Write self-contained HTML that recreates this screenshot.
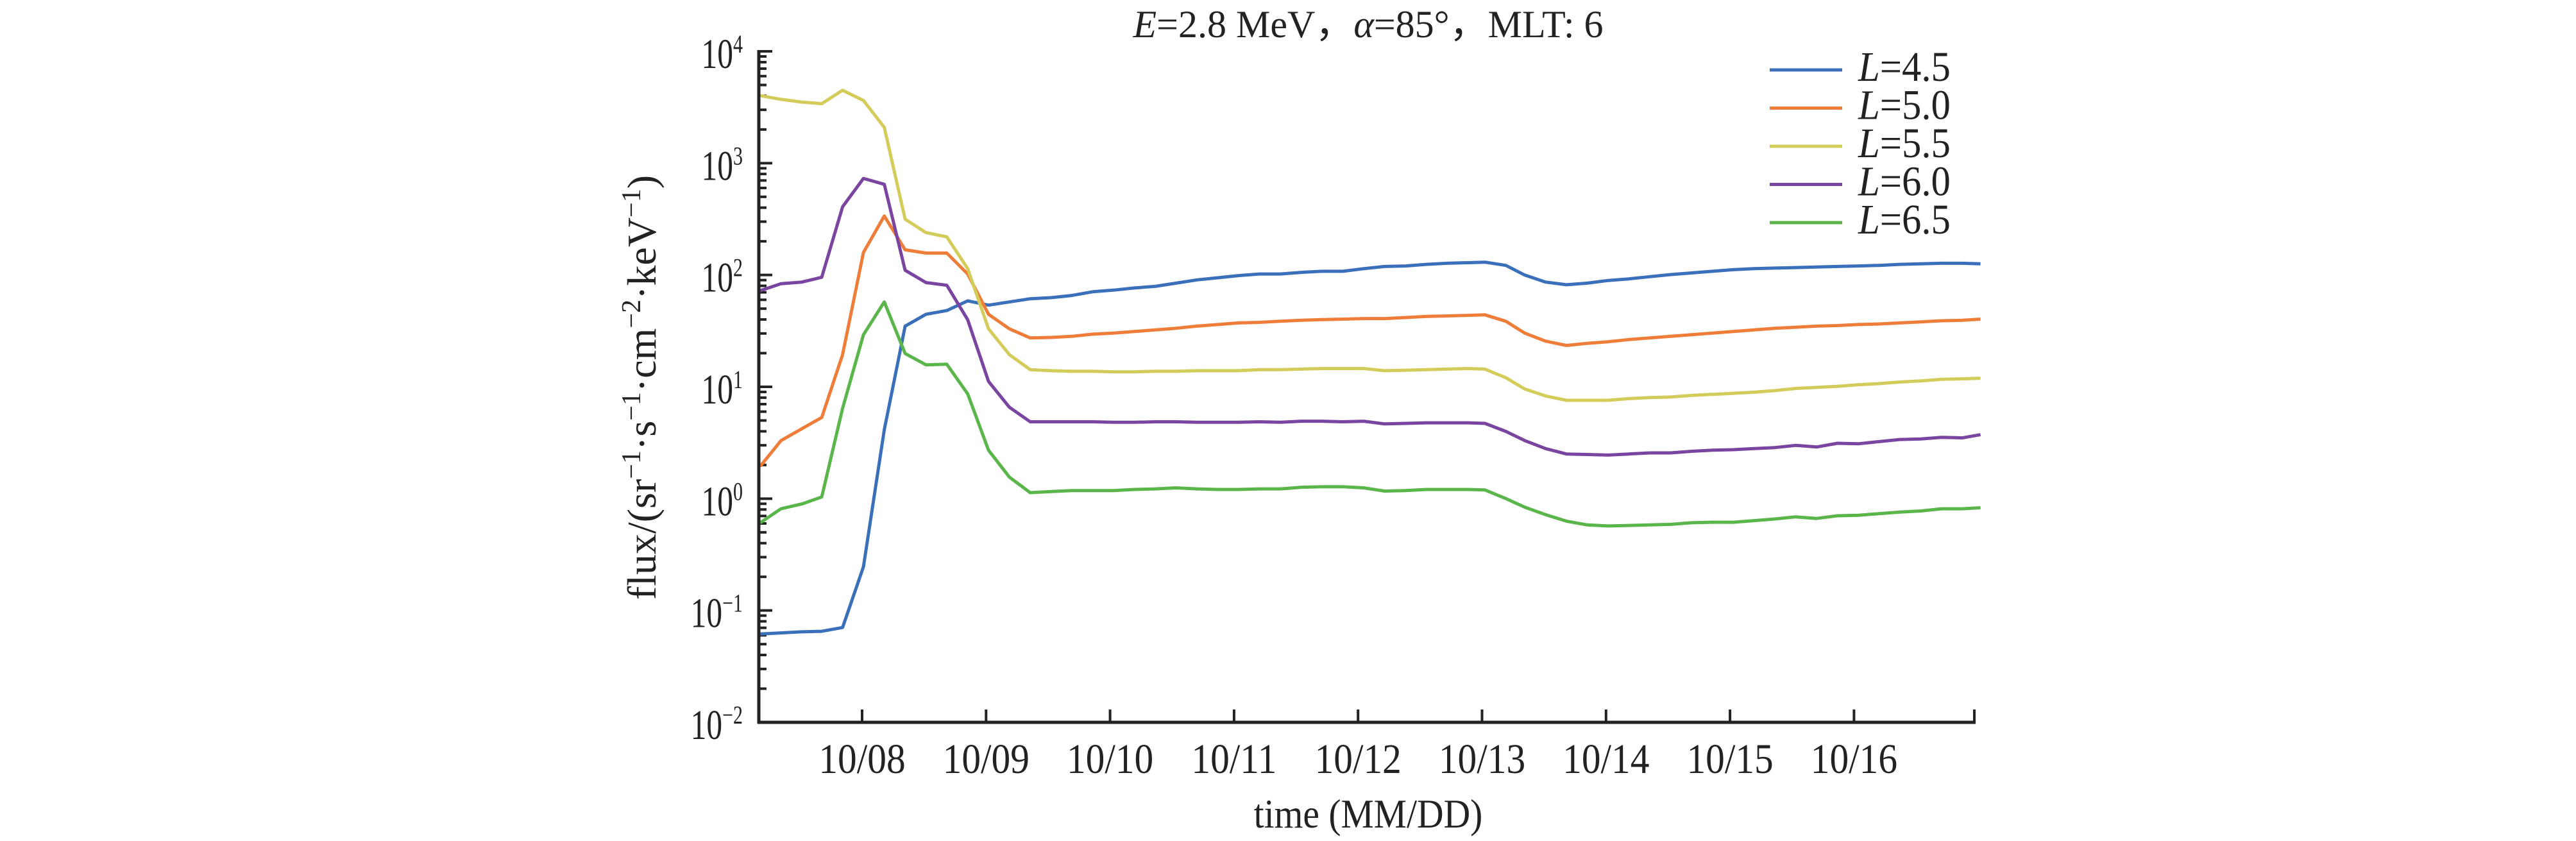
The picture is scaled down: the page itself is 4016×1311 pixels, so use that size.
<!DOCTYPE html>
<html><head><meta charset="utf-8"><style>
html,body{margin:0;padding:0;background:#fff;}
svg{display:block;font-family:"Liberation Serif",serif;}
</style></head><body>
<svg id="s" width="4016" height="1311" viewBox="0 0 4016 1311" xmlns="http://www.w3.org/2000/svg">
<rect width="4016" height="1311" fill="#fff"/>
<text x="2133" y="58" font-size="60" text-anchor="middle" fill="#222"><tspan font-style="italic">E</tspan>=2.8 MeV，<tspan font-style="italic">α</tspan>=85°，MLT: 6</text>
<g id="ticks" stroke="#222" stroke-width="4"></g>
<g id="series" fill="none" stroke-width="5" stroke-linejoin="round"></g>
<line x1="1183" y1="78" x2="1183" y2="1128" stroke="#222" stroke-width="5"/>
<line x1="1181" y1="1126" x2="3080" y2="1126" stroke="#222" stroke-width="5"/>
<g id="labels" font-size="66" fill="#222"></g>
<text x="2133" y="1290" font-size="64" text-anchor="middle" fill="#222" transform="translate(2133,0) scale(0.9,1) translate(-2133,0)">time (MM/DD)</text>
<text transform="translate(1022,604) rotate(-90)" font-size="64" text-anchor="middle" fill="#222">flux/(sr<tspan font-size="42" dy="-24">−1</tspan><tspan dy="24">·s</tspan><tspan font-size="42" dy="-24">−1</tspan><tspan dy="24">·cm</tspan><tspan font-size="42" dy="-24">−2</tspan><tspan dy="24">·keV</tspan><tspan font-size="42" dy="-24">−1</tspan><tspan dy="24">)</tspan></text>
<g id="legend" font-size="66" fill="#222"></g>
</svg>
<script>
const NS="http://www.w3.org/2000/svg";
function el(t,a,p,txt){const e=document.createElementNS(NS,t);for(const k in a)e.setAttribute(k,a[k]);if(txt)e.innerHTML=txt;p.appendChild(e);return e;}
const X0=1183,Y4=80,Yb=1126,dec=(Yb-Y4)/6;
const tk=document.getElementById('ticks'),lb=document.getElementById('labels');
for(let d=0;d<6;d++){
  const yb=Yb-d*dec;
  el('line',{x1:X0,y1:yb,x2:X0+21,y2:yb},tk);
  for(let m=2;m<10;m++){const y=yb-Math.log10(m)*dec;el('line',{x1:X0,y1:y,x2:X0+12,y2:y},tk);}
}
el('line',{x1:X0,y1:Y4,x2:X0+21,y2:Y4},tk);
for(let d=0;d<=6;d++){
  const e=4-d, y=Y4+d*dec;
  el('text',{transform:'translate(1158,'+(y+26)+') scale(0.75,1)','text-anchor':'end'},lb,'10<tspan font-size="40" dy="-24">'+(e<0?'−'+(-e):e)+'</tspan>');
}
const days=['10/08','10/09','10/10','10/11','10/12','10/13','10/14','10/15','10/16'];
days.forEach((d,i)=>{const x=1344+i*193.3;el('line',{x1:x,y1:Yb,x2:x,y2:Yb-20},tk);el('text',{transform:'translate('+x+',1205) scale(0.9,1)','text-anchor':'middle'},lb,d);});
el('line',{x1:3078,y1:Yb,x2:3078,y2:Yb-20},tk);
function T(x,y){return [(900+x/0.677).toFixed(1),(y/1.194).toFixed(1)];}
const xs=[193,215,237,258,280,302,324,346,368,390,412,434,456,478,500,522,544,566,588,610,632,654,676,698,720,742,764,786,808,830,852,874,896,918,940,958,980,1000,1022,1044,1066,1088,1110,1132,1154,1176,1198,1220,1242,1264,1286,1308,1330,1352,1374,1396,1418,1440,1462,1481];
const S={
'#3a6fba':[1180,1178,1176,1175,1168,1055,800,607,585,578,560,568,562,556,554,550,543,540,536,533,527,521,517,513,510,510,507,505,505,500,496,495,492,490,489,488,494,512,525,530,527,522,519,515,511,508,505,502,500,499,498,497,496,495,494,492,491,490,490,491],
'#ee7d3a':[868,820,798,777,660,470,402,465,471,471,510,585,612,629,628,626,622,620,617,614,611,607,604,601,600,598,596,595,594,593,593,591,589,588,587,586,598,620,635,643,639,636,632,629,626,623,620,617,614,611,609,607,606,604,603,601,599,597,596,594],
'#d4cc5a':[178,185,190,193,168,187,237,408,433,441,500,612,660,688,690,691,691,692,692,691,691,690,690,690,688,688,687,686,686,686,690,689,688,687,686,687,703,724,737,745,745,745,742,740,739,736,734,732,730,727,723,721,719,716,714,711,709,706,705,704],
'#7a45a0':[541,528,525,516,385,332,343,503,526,531,595,710,758,785,785,785,785,786,786,785,785,786,786,786,785,786,784,784,785,784,789,788,787,787,787,788,803,820,835,845,846,847,845,843,843,840,838,837,835,833,829,832,825,826,822,818,817,814,815,809],
'#5ab54a':[973,947,938,925,760,623,562,658,679,678,733,838,888,917,915,913,913,913,911,910,908,910,911,911,910,910,907,906,906,908,914,913,911,911,911,912,928,944,958,970,977,979,978,977,976,973,972,972,969,966,962,965,960,959,956,953,951,947,947,945]};
const sg=document.getElementById('series');
for(const c in S){el('polyline',{stroke:c,points:S[c].map((y,i)=>T(xs[i],y).join(',')).join(' ')},sg);}
const lg=document.getElementById('legend');
[['#3a6fba','4.5'],['#ee7d3a','5.0'],['#d4cc5a','5.5'],['#7a45a0','6.0'],['#5ab54a','6.5']].forEach((a,i)=>{
 const y=109+i*59.5;
 el('line',{x1:2759,y1:y,x2:2872,y2:y,stroke:a[0],'stroke-width':5},lg);
 el('text',{transform:'translate(2897,'+(y+17)+') scale(0.92,1)'},lg,'<tspan font-style="italic">L</tspan>='+a[1]);
});
</script>
</body></html>
